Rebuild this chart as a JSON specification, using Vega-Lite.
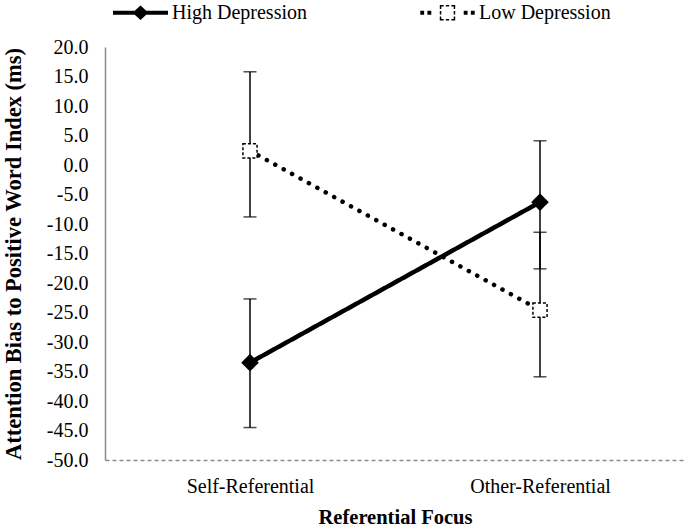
{
  "$schema": "https://vega.github.io/schema/vega-lite/v6.json",
  "width": 580,
  "height": 413,
  "autosize": {"type": "none"},
  "padding": {"left": 105, "top": 47, "right": 0, "bottom": 71},
  "background": "white",
  "config": {
    "view": {"stroke": null},
    "font": "Liberation Serif",
    "axis": {
      "grid": false,
      "ticks": false,
      "tickSize": 0,
      "labelFont": "Liberation Serif",
      "labelFontSize": 20,
      "labelColor": "black",
      "titleFont": "Liberation Serif",
      "titleColor": "black",
      "titleFontWeight": "bold"
    }
  },
  "data": {
    "values": [
      {"focus": "Self-Referential", "group": "High Depression", "mean": -33.5, "lo": -44.5, "hi": -22.7},
      {"focus": "Other-Referential", "group": "High Depression", "mean": -6.3, "lo": -17.6, "hi": 4.1},
      {"focus": "Self-Referential", "group": "Low Depression", "mean": 2.4, "lo": -8.8, "hi": 15.8},
      {"focus": "Other-Referential", "group": "Low Depression", "mean": -24.6, "lo": -35.9, "hi": -11.4}
    ]
  },
  "encoding": {
    "x": {
      "field": "focus",
      "type": "nominal",
      "sort": ["Self-Referential", "Other-Referential"],
      "scale": {"type": "point", "padding": 0.5},
      "title": "Referential Focus",
      "axis": {
        "labelAngle": 0,
        "labelPadding": 16,
        "domainDash": [4, 3],
        "domainColor": "#8c8c8c",
        "domainWidth": 1.5,
        "titleFontSize": 20.5,
        "titlePadding": 11
      }
    },
    "y": {
      "field": "mean",
      "type": "quantitative",
      "title": "Attention Bias to Positive Word Index (ms)",
      "scale": {"domain": [-50, 20], "nice": false, "zero": false},
      "axis": {
        "values": [-50, -45, -40, -35, -30, -25, -20, -15, -10, -5, 0, 5, 10, 15, 20],
        "labelOverlap": false,
        "labelExpr": "(datum.value < 0 ? '-' : '') + format(abs(datum.value), '.1f')",
        "labelPadding": 17,
        "domainColor": "#8c8c8c",
        "domainWidth": 1.5,
        "titleFontSize": 22.5,
        "titlePadding": 21
      }
    }
  },
  "resolve": {"legend": {"shape": "independent", "strokeDash": "independent"}},
  "layer": [
    {
      "mark": {"type": "rule", "color": "black", "strokeWidth": 1.5},
      "encoding": {
        "y": {"field": "lo", "type": "quantitative", "title": "Attention Bias to Positive Word Index (ms)", "axis": {"values": [-50, -45, -40, -35, -30, -25, -20, -15, -10, -5, 0, 5, 10, 15, 20], "labelOverlap": false, "labelExpr": "(datum.value < 0 ? '-' : '') + format(abs(datum.value), '.1f')", "labelPadding": 17, "domainColor": "#8c8c8c", "domainWidth": 1.5, "titleFontSize": 22.5, "titlePadding": 21}},
        "y2": {"field": "hi"}
      }
    },
    {
      "mark": {"type": "tick", "color": "black", "size": 13, "thickness": 1.5},
      "encoding": {
        "y": {"field": "lo", "type": "quantitative", "title": "Attention Bias to Positive Word Index (ms)", "axis": {"values": [-50, -45, -40, -35, -30, -25, -20, -15, -10, -5, 0, 5, 10, 15, 20], "labelOverlap": false, "labelExpr": "(datum.value < 0 ? '-' : '') + format(abs(datum.value), '.1f')", "labelPadding": 17, "domainColor": "#8c8c8c", "domainWidth": 1.5, "titleFontSize": 22.5, "titlePadding": 21}}
      }
    },
    {
      "mark": {"type": "tick", "color": "black", "size": 13, "thickness": 1.5},
      "encoding": {
        "y": {"field": "hi", "type": "quantitative", "title": "Attention Bias to Positive Word Index (ms)", "axis": {"values": [-50, -45, -40, -35, -30, -25, -20, -15, -10, -5, 0, 5, 10, 15, 20], "labelOverlap": false, "labelExpr": "(datum.value < 0 ? '-' : '') + format(abs(datum.value), '.1f')", "labelPadding": 17, "domainColor": "#8c8c8c", "domainWidth": 1.5, "titleFontSize": 22.5, "titlePadding": 21}}
      }
    },
    {
      "mark": {"type": "line", "color": "black", "strokeWidth": 4.5, "strokeCap": "round"},
      "encoding": {
        "strokeDash": {
          "field": "group",
          "type": "nominal",
          "scale": {"domain": ["High Depression", "Low Depression"], "range": [[1, 0], [0.1, 9.5]]},
          "legend": null
        }
      }
    },
    {
      "mark": {"type": "point", "filled": true, "stroke": "black", "strokeWidth": 1.5, "opacity": 1},
      "encoding": {
        "fill": {"condition": {"test": "datum.group === 'High Depression'", "value": "black"}, "value": "white"},
        "size": {"condition": {"test": "datum.group === 'High Depression'", "value": 240}, "value": 200},
        "strokeDash": {"condition": {"test": "datum.group === 'High Depression'", "value": [1, 0]}, "value": [3, 2]},
        "shape": {"condition": {"test": "datum.group === 'High Depression'", "value": "diamond"}, "value": "square"}
      }
    },
    {
      "transform": [{"filter": "false"}],
      "mark": {"type": "point", "filled": true, "color": "black", "opacity": 1, "strokeWidth": 0},
      "encoding": {
        "shape": {
          "field": "group",
          "type": "nominal",
          "scale": {
            "domain": ["High Depression", "Low Depression"],
            "range": [
              "M-1,-0.075L1,-0.075L1,0.075L-1,0.075Z M-0.29,0L0,-0.26L0.29,0L0,0.26Z",
              "M-0.28,-0.28L-0.14,-0.28L-0.14,-0.225L-0.28,-0.225Z M-0.06,-0.28L0.06,-0.28L0.06,-0.225L-0.06,-0.225Z M0.14,-0.28L0.28,-0.28L0.28,-0.225L0.14,-0.225Z M-0.28,0.225L-0.14,0.225L-0.14,0.28L-0.28,0.28Z M-0.06,0.225L0.06,0.225L0.06,0.28L-0.06,0.28Z M0.14,0.225L0.28,0.225L0.28,0.28L0.14,0.28Z M-0.28,-0.28L-0.225,-0.28L-0.225,-0.14L-0.28,-0.14Z M-0.28,-0.06L-0.225,-0.06L-0.225,0.06L-0.28,0.06Z M-0.28,0.14L-0.225,0.14L-0.225,0.28L-0.28,0.28Z M0.225,-0.28L0.28,-0.28L0.28,-0.14L0.225,-0.14Z M0.225,-0.06L0.28,-0.06L0.28,0.06L0.225,0.06Z M0.225,0.14L0.28,0.14L0.28,0.28L0.225,0.28Z M-0.99,-0.07L-0.85,-0.07L-0.85,0.07L-0.99,0.07Z M-0.73,-0.07L-0.59,-0.07L-0.59,0.07L-0.73,0.07Z M0.59,-0.07L0.73,-0.07L0.73,0.07L0.59,0.07Z M0.85,-0.07L0.99,-0.07L0.99,0.07L0.85,0.07Z"
            ]
          },
          "legend": {
            "title": null,
            "orient": "none",
            "legendX": 8,
            "legendY": -62,
            "direction": "horizontal",
            "padding": 0,
            "labelFont": "Liberation Serif",
            "labelFontSize": 20,
            "labelColor": "black",
            "labelOffset": 4,
            "columnPadding": 113,
            "symbolSize": 3025,
            "symbolStrokeWidth": 0,
            "symbolOpacity": 1
          }
        }
      }
    }
  ]
}
